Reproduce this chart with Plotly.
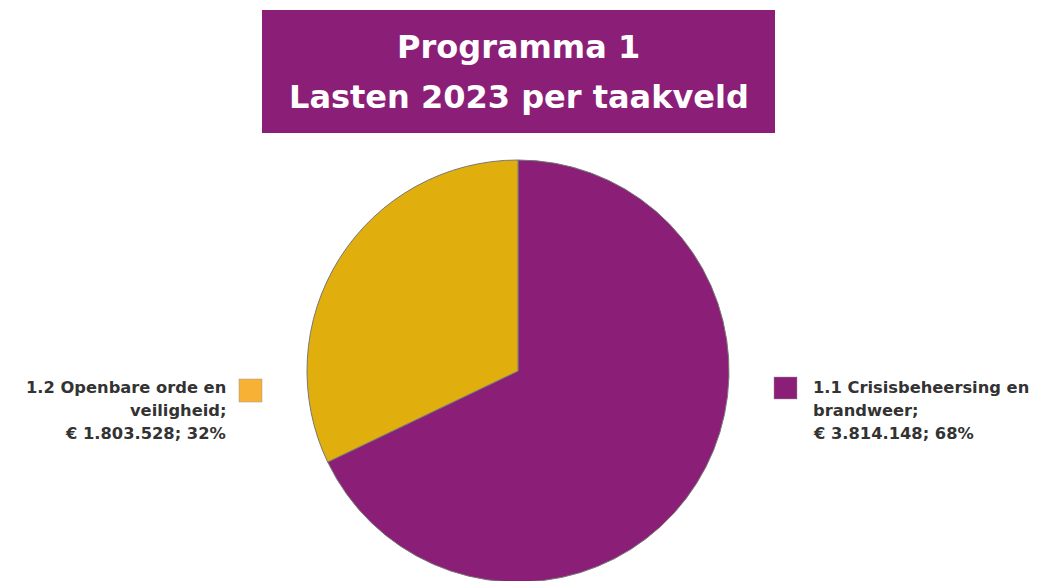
import plotly.graph_objects as go

W, H = 1042, 581
OFF = 8  # page offset of the figure in the browser

# Data
categories = ["1.1 Crisisbeheersing en brandweer", "1.2 Openbare orde en veiligheid"]
values = [3814148, 1803528]
value_labels = ["€ 3.814.148", "€ 1.803.528"]
pct_labels = ["68%", "32%"]
slice_colors = ["#8B1E76", "#E0AF0E"]
legend_colors = ["#8B1E76", "#F7B134"]
title_lines = ["Programma 1", "Lasten 2023 per taakveld"]
label_lines = [
    ["1.1 Crisisbeheersing en", "brandweer;", value_labels[0] + "; " + pct_labels[0]],
    ["1.2 Openbare orde en", "veiligheid;", value_labels[1] + "; " + pct_labels[1]],
]

def px(x):
    return (x - OFF) / W

def py(y):
    return 1 - (y - OFF) / H

cx, cy, r = 518, 371, 211

fig = go.Figure(go.Pie(
    labels=categories,
    values=values,
    sort=False,
    direction="clockwise",
    rotation=0,
    marker=dict(colors=slice_colors, line=dict(color="#777777", width=1)),
    textinfo="none",
    hoverinfo="label+value+percent",
    domain=dict(x=[px(cx - r), px(cx + r)], y=[max(0, py(cy + r)), py(cy - r)]),
    showlegend=False,
))

shapes = []
annotations = []

# Title box
shapes.append(dict(type="rect", xref="paper", yref="paper",
                   x0=px(262), x1=px(775), y0=py(133), y1=py(10),
                   fillcolor="#8B1E76", line=dict(width=0), layer="below"))
title_font = dict(family="DejaVu Sans", size=32, color="white", weight="bold")
for line, yc in zip(title_lines, [47, 97]):
    annotations.append(dict(
        text=line, xref="paper", yref="paper",
        x=px(518.5), y=py(yc), xanchor="center", yanchor="middle",
        showarrow=False, font=title_font,
    ))

label_font = dict(family="DejaVu Sans", size=16.3, color="#333333", weight="bold")
line_y = [387, 410, 434]

# Right label (1.1)
shapes.append(dict(type="rect", xref="paper", yref="paper",
                   x0=px(774), x1=px(797), y0=py(399), y1=py(377),
                   fillcolor=legend_colors[0], line=dict(color="#999999", width=0.5)))
for line, yc in zip(label_lines[0], line_y):
    annotations.append(dict(
        text=line, xref="paper", yref="paper", x=px(811), y=py(yc),
        xanchor="left", yanchor="middle", showarrow=False, font=label_font,
    ))

# Left label (1.2)
shapes.append(dict(type="rect", xref="paper", yref="paper",
                   x0=px(239), x1=px(262), y0=py(402), y1=py(379),
                   fillcolor=legend_colors[1], line=dict(color="#999999", width=0.5)))
for line, yc in zip(label_lines[1], line_y):
    annotations.append(dict(
        text=line, xref="paper", yref="paper", x=px(228), y=py(yc),
        xanchor="right", yanchor="middle", showarrow=False, font=label_font,
    ))

fig.update_layout(
    width=W, height=H,
    margin=dict(l=0, r=0, t=0, b=0),
    paper_bgcolor="white",
    plot_bgcolor="white",
    shapes=shapes,
    annotations=annotations,
)

fig.write_html("out.html")
